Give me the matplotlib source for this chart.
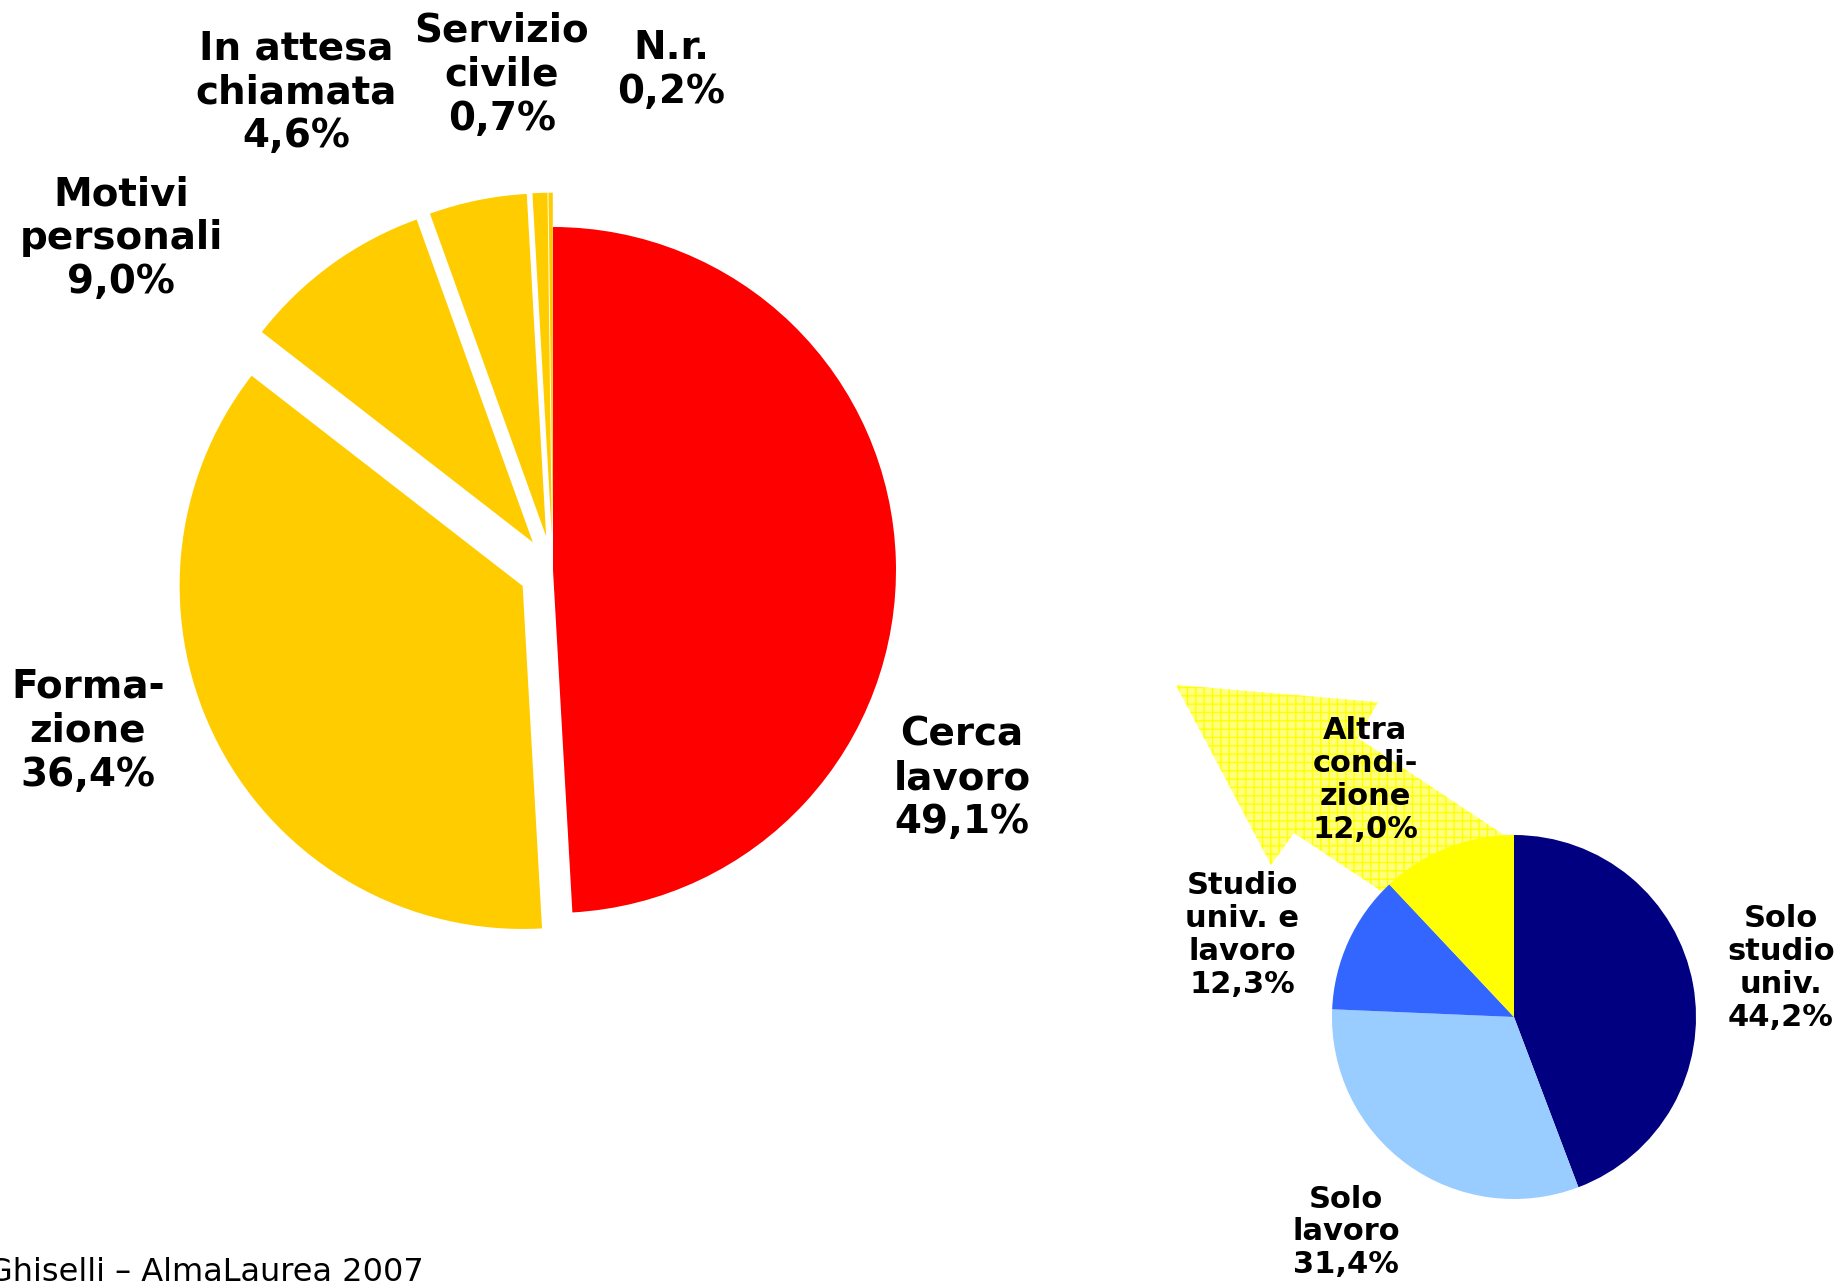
import matplotlib
matplotlib.use('Agg')
import matplotlib.pyplot as plt
from matplotlib.patches import Polygon

# big pie: condition of those who don't work
big_labels = ['Cerca\nlavoro\n49,1%', 'Forma-\nzione\n36,4%', 'Motivi\npersonali\n9,0%',
              'In attesa\nchiamata\n4,6%', 'Servizio\ncivile\n0,7%', 'N.r.\n0,2%']
big_values = [49.1, 36.4, 9.0, 4.6, 0.7, 0.2]
big_colors = ['#ff0000', '#ffcc00', '#ffcc00', '#ffcc00', '#ffcc00', '#ffcc00']
big_explode = [0, 0.1, 0.1, 0.1, 0.1, 0.1]

# small pie: breakdown of "Formazione"
small_labels = ['Solo\nstudio\nuniv.\n44,2%', 'Solo\nlavoro\n31,4%',
                'Studio\nuniv. e\nlavoro\n12,3%', 'Altra\ncondi-\nzione\n12,0%']
small_values = [44.2, 31.4, 12.3, 12.0]
small_colors = ['#000080', '#99ccff', '#3366ff', '#ffff00']

W, H = 1840, 1285
R_BIG, R_SMALL = 343, 182
plt.rcParams['hatch.linewidth'] = 1.0
fig = plt.figure(figsize=(W / 100, H / 100), dpi=100)
ax = fig.add_axes([0, 0, 1, 1])

# arrow linking the two pies (drawn behind the small pie)
arrow_pts = [(1176, 685), (1378, 702), (1358, 738), (1525, 849),
             (1480, 957), (1294, 833), (1271, 865)]
arrow = Polygon([(x, H - y) for x, y in arrow_pts], closed=True,
                facecolor='#ffff80', edgecolor='#ffff00', linewidth=0,
                hatch='++', zorder=1)
ax.add_patch(arrow)

# explode in pie() is in data units, so scale by the radius
ax.pie(big_values, explode=[e * R_BIG for e in big_explode], colors=big_colors,
       startangle=90, counterclock=False, center=(553, H - 570), radius=R_BIG,
       wedgeprops=dict(linewidth=0, zorder=2))
ax.pie(small_values, colors=small_colors, startangle=90, counterclock=False,
       center=(1514, H - 1017), radius=R_SMALL,
       wedgeprops=dict(linewidth=0, zorder=2))

ax.set_xlim(0, W)
ax.set_ylim(0, H)
ax.set_aspect('equal')
ax.axis('off')

big_pos = [(962, 778), (88, 731), (121, 238), (296, 92), (502, 75), (671, 70)]
for lab, (x, y) in zip(big_labels, big_pos):
    ax.text(x, H - y, lab, ha='center', va='center', fontsize=28,
            fontweight='bold', linespacing=1.2, zorder=5)

small_pos = [(1781, 968), (1346, 1232), (1242, 935), (1365, 780)]
for lab, (x, y) in zip(small_labels, small_pos):
    ax.text(x, H - y, lab, ha='center', va='center', fontsize=22,
            fontweight='bold', linespacing=1.16, zorder=5)

ax.text(424, H - 1281, 'Ghiselli \u2013 AlmaLaurea 2007', ha='right',
        va='baseline', fontsize=23, zorder=5)

fig.savefig('out.png', dpi=100)
